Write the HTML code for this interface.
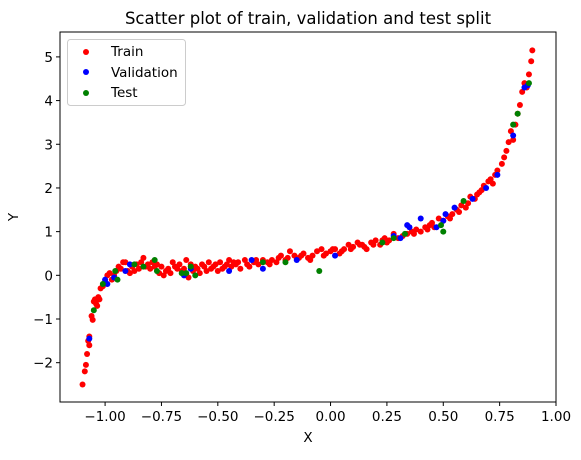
<!DOCTYPE html>
<html><head><meta charset="utf-8"><style>
body{margin:0;background:#fff}
svg text{font-family:"DejaVu Sans","Liberation Sans",sans-serif;fill:#000}
</style></head><body>
<svg id="chart" width="581" height="455" xmlns="http://www.w3.org/2000/svg">
<rect width="581" height="455" fill="#fff"/>
<text x="308" y="24" font-size="16.5" text-anchor="middle">Scatter plot of train, validation and test split</text>
<g id="marks"></g>
<g id="axes"></g>
<rect x="60" y="32" width="496" height="370" fill="none" stroke="#000" stroke-width="1"/>
<text x="308" y="442" font-size="13.5" text-anchor="middle">X</text>
<text x="18" y="217" font-size="13.5" text-anchor="middle" transform="rotate(-90 18 217)">Y</text>
<g>
<rect x="67.5" y="39.5" width="118" height="66" rx="3" fill="#fff" fill-opacity="0.8" stroke="#ccc"/>
<g><circle cx="86" cy="52" r="3" fill="red"/><text x="111" y="56" font-size="13.5">Train</text></g>
<g><circle cx="86" cy="72" r="3" fill="blue"/><text x="111" y="77" font-size="13.5">Validation</text></g>
<g><circle cx="86" cy="93" r="3" fill="green"/><text x="111" y="97" font-size="13.5">Test</text></g>
</g>
</svg>
<script>
const xTicks=[-1.0,-0.75,-0.5,-0.25,0.0,0.25,0.5,0.75,1.0];
const xTickLabels=["\u22121.00","\u22120.75","\u22120.50","\u22120.25","0.00","0.25","0.50","0.75","1.00"];
const yTicks=[-2,-1,0,1,2,3,4,5];
const yTickLabels=["\u22122","\u22121","0","1","2","3","4","5"];
const trainX=[-1.10,-1.09,-1.085,-1.08,-1.075,-1.07,-1.07,-1.06,-1.055,-1.05,-1.045,-1.04,-1.035,-1.03,-1.025,-1.02,-1.01,-1.0,-0.99,-0.98,-0.97,-0.96,-0.95,-0.94,-0.93,-0.92,-0.91,-0.90,-0.89,-0.88,-0.87,-0.86,-0.85,-0.84,-0.83,-0.82,-0.81,-0.80,-0.79,-0.78,-0.77,-0.76,-0.75,-0.74,-0.73,-0.72,-0.71,-0.70,-0.69,-0.68,-0.67,-0.66,-0.65,-0.64,-0.63,-0.62,-0.61,-0.60,-0.59,-0.58,-0.57,-0.56,-0.55,-0.54,-0.53,-0.52,-0.51,-0.50,-0.49,-0.48,-0.47,-0.46,-0.45,-0.44,-0.43,-0.42,-0.41,-0.40,-0.38,-0.36,-0.34,-0.32,-0.30,-0.28,-0.26,-0.24,-0.22,-0.20,-0.18,-0.16,-0.14,-0.12,-0.10,-0.08,-0.06,-0.04,-0.02,0.0,0.02,0.04,0.06,0.08,0.10,0.12,0.14,0.16,0.18,0.20,0.22,0.24,0.26,0.28,0.30,0.32,0.34,0.36,0.38,0.40,0.42,0.44,0.46,0.48,0.50,0.52,0.54,0.56,0.58,0.60,0.62,0.64,0.66,0.68,0.70,0.72,0.74,0.76,0.77,0.78,0.79,0.80,0.81,0.82,0.83,0.84,0.85,0.86,0.87,0.88,0.89,0.895,0.45,0.53,0.57,0.61,0.65,0.67,0.71,0.73,0.15,0.25,0.37,0.43,-0.37,-0.33,-0.27,-0.23,-0.19,-0.13,-0.09,-0.03,0.01,0.05,0.09,0.13,0.19,0.23];
const trainY=[-2.5,-2.2,-2.05,-1.8,-1.5,-1.6,-1.4,-0.93,-1.02,-0.6,-0.55,-0.65,-0.7,-0.5,-0.55,-0.3,-0.25,-0.15,0.0,0.05,-0.1,0.0,0.1,0.2,0.15,0.3,0.3,0.1,0.05,0.2,0.1,0.25,0.15,0.3,0.4,0.2,0.25,0.15,0.3,0.2,0.25,0.05,0.2,0.0,0.1,0.15,0.05,0.3,0.2,0.15,0.25,0.1,0.15,0.35,-0.05,0.25,0.1,0.2,0.15,0.05,0.25,0.2,0.1,0.3,0.15,0.2,0.25,0.1,0.3,0.15,0.2,0.25,0.35,0.2,0.3,0.25,0.3,0.15,0.35,0.2,0.3,0.25,0.35,0.3,0.35,0.3,0.45,0.35,0.55,0.45,0.4,0.5,0.4,0.45,0.55,0.6,0.5,0.55,0.6,0.5,0.6,0.7,0.65,0.75,0.7,0.6,0.75,0.8,0.7,0.85,0.8,0.95,0.85,0.9,0.95,1.0,1.05,1.0,1.1,1.15,1.1,1.3,1.25,1.35,1.4,1.5,1.6,1.55,1.8,1.75,1.9,2.05,2.15,2.1,2.4,2.55,2.7,2.85,3.05,3.3,3.1,3.45,3.7,3.9,4.2,4.4,4.3,4.6,4.9,5.15,1.2,1.3,1.45,1.65,1.85,1.95,2.2,2.3,0.65,0.75,0.95,1.05,0.25,0.35,0.25,0.4,0.4,0.45,0.35,0.45,0.6,0.55,0.6,0.7,0.7,0.8];
const valX=[-1.07,-1.0,-0.99,-0.96,-0.91,-0.89,-0.65,-0.62,-0.45,-0.35,-0.30,-0.15,0.02,0.28,0.31,0.34,0.35,0.40,0.47,0.50,0.51,0.55,0.63,0.69,0.74,0.81,0.86,0.875];
const valY=[-1.45,-0.1,-0.2,-0.05,0.1,0.25,0.0,0.15,0.1,0.35,0.15,0.35,0.45,0.9,0.85,1.15,1.1,1.3,1.1,1.25,1.4,1.55,1.75,2.0,2.3,3.2,4.3,4.35];
const testX=[-1.05,-1.01,-0.955,-0.945,-0.87,-0.83,-0.78,-0.77,-0.66,-0.64,-0.62,-0.60,-0.30,-0.20,-0.05,0.23,0.28,0.33,0.49,0.50,0.59,0.81,0.83,0.88];
const testY=[-0.8,-0.2,0.1,-0.1,0.25,0.2,0.35,0.1,0.05,0.05,0.2,0.0,0.3,0.3,0.1,0.75,0.85,0.95,1.15,1.0,1.7,3.45,3.7,4.4];
const L=60,R=556,T=32,B=402,X0=-1.2,X1=1.0,Y0=-2.9,Y1=5.57;
const sx=v=>L+(v-X0)/(X1-X0)*(R-L);
const sy=v=>B-(v-Y0)/(Y1-Y0)*(B-T);
const NS="http://www.w3.org/2000/svg";
const marks=document.getElementById('marks'),axes=document.getElementById('axes');
function series(xs,ys,color,name){
  const g=document.createElementNS(NS,'g');
  
  
  xs.forEach((x,i)=>{
    const c=document.createElementNS(NS,'circle');
    c.setAttribute('cx',sx(x));c.setAttribute('cy',sy(ys[i]));c.setAttribute('r',3);c.setAttribute('fill',color);
    
    
    g.appendChild(c);
  });
  marks.appendChild(g);
}
series(trainX,trainY,'red','train');
series(valX,valY,'blue','validation');
series(testX,testY,'green','test');
xTicks.forEach((v,i)=>{
  const x=sx(v);
  const l=document.createElementNS(NS,'line');
  l.setAttribute('x1',x);l.setAttribute('x2',x);l.setAttribute('y1',B);l.setAttribute('y2',B+4);l.setAttribute('stroke','#000');
  
  
  axes.appendChild(l);
  const t=document.createElementNS(NS,'text');
  t.setAttribute('x',x);t.setAttribute('y',B+19);t.setAttribute('font-size','13.5');t.setAttribute('text-anchor','middle');
  t.textContent=xTickLabels[i];
  
  
  axes.appendChild(t);
});
yTicks.forEach((v,i)=>{
  const y=sy(v);
  const l=document.createElementNS(NS,'line');
  l.setAttribute('x1',L-4);l.setAttribute('x2',L);l.setAttribute('y1',y);l.setAttribute('y2',y);l.setAttribute('stroke','#000');
  
  
  axes.appendChild(l);
  const t=document.createElementNS(NS,'text');
  t.setAttribute('x',L-7);t.setAttribute('y',y+5);t.setAttribute('font-size','13.5');t.setAttribute('text-anchor','end');
  t.textContent=yTickLabels[i];
  
  
  axes.appendChild(t);
});
</script>
</body></html>
